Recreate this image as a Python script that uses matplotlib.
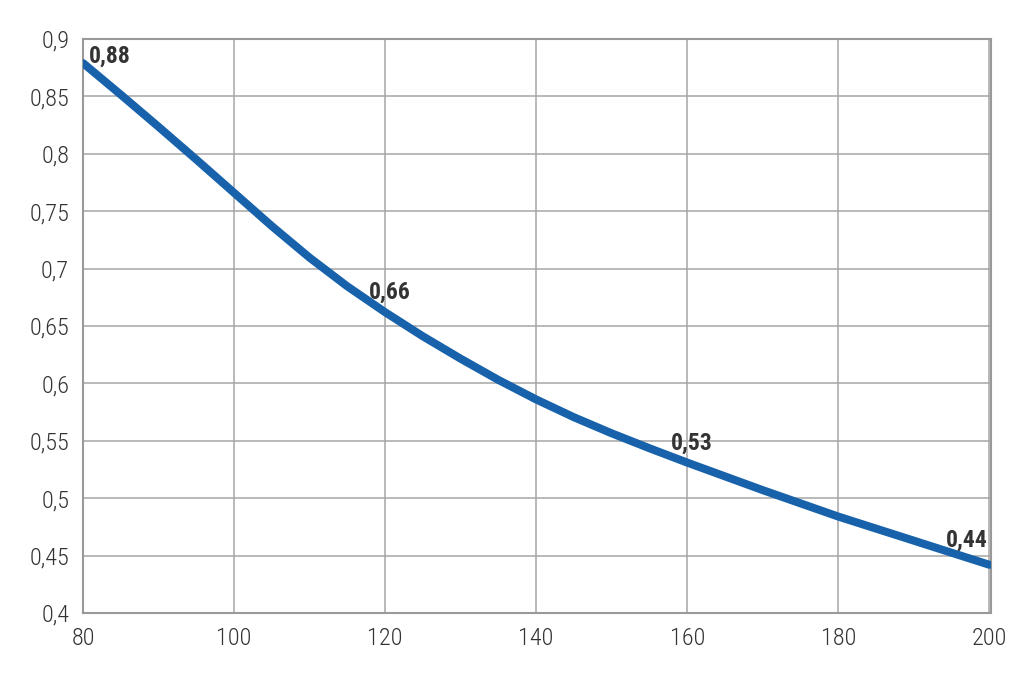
import matplotlib
matplotlib.use("Agg")
import matplotlib.pyplot as plt

# Valores
x_vals = [80, 85, 90, 95, 100, 105, 110, 115, 120, 125, 130, 135, 140,
          145, 150, 155, 160, 165, 170, 175, 180, 185, 190, 195, 200]
y_vals = [0.879, 0.8515, 0.8235, 0.795, 0.766, 0.737, 0.7095, 0.6845, 0.662,
          0.641, 0.6215, 0.603, 0.586, 0.5705, 0.5565, 0.5435, 0.531, 0.519,
          0.507, 0.4955, 0.484, 0.4735, 0.463, 0.4525, 0.442]

x_ticks = [80, 100, 120, 140, 160, 180, 200]
y_ticks = [0.4, 0.45, 0.5, 0.55, 0.6, 0.65, 0.7, 0.75, 0.8, 0.85, 0.9]
y_tick_labels = ["0,4", "0,45", "0,5", "0,55", "0,6", "0,65", "0,7",
                 "0,75", "0,8", "0,85", "0,9"]

# Etiquetas de puntos
label_x = [80, 120, 160, 200]
label_y = [0.879, 0.662, 0.531, 0.442]
label_txt = ["0,88", "0,66", "0,53", "0,44"]

plt.rcParams['font.family'] = ['Roboto Condensed', 'Liberation Sans Narrow', 'Roboto', 'DejaVu Sans']

fig = plt.figure(figsize=(10.3, 6.9), dpi=100)
ax = fig.add_axes([0.0806, 0.1116, 0.8814, 0.8319])

ax.plot(x_vals, y_vals, color="#1762ab", linewidth=5.8,
        solid_capstyle="round", solid_joinstyle="round", zorder=3)

ax.set_xlim(80, 200.2)
ax.set_ylim(0.4, 0.9)
ax.set_xticks(x_ticks)
ax.set_xticklabels([str(v) for v in x_ticks])
ax.set_yticks(y_ticks)
ax.set_yticklabels(y_tick_labels)
ax.tick_params(length=0, labelsize=17.5, colors="#333333", pad=10)
for lab in ax.get_xticklabels() + ax.get_yticklabels():
    lab.set_fontweight("light")
ax.grid(True, color="#a6a6a6", linewidth=1.1)
ax.set_axisbelow(True)
for s in ax.spines.values():
    s.set_color("#999999")
    s.set_linewidth(1.5)

offsets = [(4.5, 0, "left"), (3.6, 10, "center"), (3.6, 9, "center"), (-1.5, 13, "right")]
for xv, yv, t, (dx, dy, ha) in zip(label_x, label_y, label_txt, offsets):
    ax.annotate(t, (xv, yv), xytext=(dx, dy), textcoords="offset points",
                ha=ha, va="baseline", fontsize=17, fontweight="bold",
                color="#333333", zorder=4)

fig.savefig("out.png", dpi=100)
